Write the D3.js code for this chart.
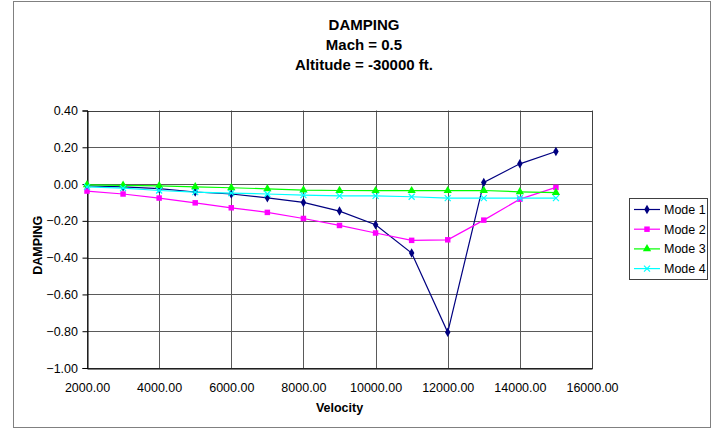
<!DOCTYPE html>
<html>
<head>
<meta charset="utf-8">
<script src="https://cdn.jsdelivr.net/npm/d3@7"></script>
<style>
  body { margin: 0; background: #fff; }
  svg { font-family: Arial, "Liberation Sans", sans-serif; }
</style>
</head>
<body>
<script>
// Damping chart data
var velocity = [2000, 3000, 4000, 5000, 6000, 7000, 8000, 9000, 10000, 11000, 12000, 13000, 14000, 15000];
var mode1 = [-0.01, -0.015, -0.025, -0.043, -0.054, -0.075, -0.10, -0.147, -0.221, -0.375, -0.806, 0.009, 0.11, 0.177];
var mode2 = [-0.038, -0.054, -0.076, -0.102, -0.129, -0.154, -0.187, -0.225, -0.266, -0.306, -0.303, -0.196, -0.082, -0.018];
var mode3 = [-0.004, -0.007, -0.01, -0.015, -0.02, -0.026, -0.033, -0.035, -0.036, -0.036, -0.036, -0.035, -0.042, -0.046];
var mode4 = [-0.015, -0.022, -0.035, -0.044, -0.049, -0.054, -0.06, -0.064, -0.064, -0.069, -0.076, -0.076, -0.076, -0.076];
var seriesNames = ["Mode 1", "Mode 2", "Mode 3", "Mode 4"];
var xTickValues = [2000, 4000, 6000, 8000, 10000, 12000, 14000, 16000];
var yTickValues = [-1.0, -0.8, -0.6, -0.4, -0.2, 0.0, 0.2, 0.4];
var titleLines = ["DAMPING", "Mach = 0.5", "Altitude = -30000 ft."];

var svgWidth = 721;
var svgHeight = 430;

// plot area in pixels
var plot = { left: 87, right: 592, top: 110.5, bottom: 368 };

var colors = ["#000080", "#ff00ff", "#00ff00", "#00ffff"];
var symbols = ["diamond", "square", "triangle", "cross"];

var svg = d3.select("body")
  .append("svg")
  .attr("width", svgWidth)
  .attr("height", svgHeight);

// outer chart border
svg.append("rect")
  .attr("x", 13.5).attr("y", 1.5)
  .attr("width", 697).attr("height", 426)
  .attr("fill", "#fff")
  .attr("stroke", "#808080");

var xScale = d3.scaleLinear()
  .domain([2000, 16000])
  .range([plot.left, plot.right]);

var yScale = d3.scaleLinear()
  .domain([-1.0, 0.4])
  .range([plot.bottom, plot.top]);

// gridlines
svg.append("g").selectAll("line")
  .data(yTickValues)
  .enter().append("line")
  .attr("x1", plot.left).attr("x2", plot.right)
  .attr("y1", d => Math.round(yScale(d)) + 0.5)
  .attr("y2", d => Math.round(yScale(d)) + 0.5)
  .attr("stroke", "#5a5a5a");

svg.append("g").selectAll("line")
  .data(xTickValues)
  .enter().append("line")
  .attr("y1", plot.top).attr("y2", plot.bottom)
  .attr("x1", d => Math.round(xScale(d)) + 0.5)
  .attr("x2", d => Math.round(xScale(d)) + 0.5)
  .attr("stroke", "#5a5a5a");

// plot border
svg.append("rect")
  .attr("x", plot.left + 0.5).attr("y", Math.round(plot.top) + 0.5)
  .attr("width", plot.right - plot.left)
  .attr("height", Math.round(plot.bottom) - Math.round(plot.top))
  .attr("fill", "none")
  .attr("stroke", "#404040");

// axes
var leftAxis = d3.axisLeft(yScale)
  .tickValues(yTickValues)
  .tickFormat(d3.format(".2f"))
  .tickSize(5)
  .tickPadding(4.5);

var bottomAxis = d3.axisBottom(xScale)
  .tickValues(xTickValues)
  .tickFormat(d3.format(".2f"))
  .tickSize(0)
  .tickPadding(15);

var yAxisG = svg.append("g")
  .attr("transform", "translate(" + (plot.left + 0.5) + ",0)")
  .call(leftAxis);

var xAxisG = svg.append("g")
  .attr("transform", "translate(0," + (plot.bottom + 0.5) + ")")
  .call(bottomAxis);

[yAxisG, xAxisG].forEach(function (g) {
  g.select(".domain").attr("stroke", "#000");
  g.selectAll(".tick line").attr("stroke", "#000");
  g.selectAll(".tick text")
    .attr("fill", "#000")
    .style("font-size", "12.5px")
    .style("font-family", "Arial, 'Liberation Sans', sans-serif");
});

// series lines and markers
var allSeries = [mode1, mode2, mode3, mode4];

var drawLine = d3.line()
  .x((d, i) => xScale(velocity[i]))
  .y(d => yScale(d));

function markerPath(type) {
  if (type === "diamond") return d3.symbol().type(d3.symbolDiamond).size(26)();
  if (type === "square") return d3.symbol().type(d3.symbolSquare).size(30)();
  if (type === "triangle") return d3.symbol().type(d3.symbolTriangle).size(30)();
  return "M-3,-3L3,3M-3,3L3,-3";
}

allSeries.forEach(function (values, s) {
  svg.append("path")
    .attr("d", drawLine(values))
    .attr("fill", "none")
    .attr("stroke", colors[s])
    .attr("stroke-width", 1.2);

  svg.append("g").selectAll("path")
    .data(values)
    .enter().append("path")
    .attr("transform", (d, i) => "translate(" + xScale(velocity[i]) + "," + yScale(d) + ")")
    .attr("d", markerPath(symbols[s]))
    .attr("fill", symbols[s] === "cross" ? "none" : colors[s])
    .attr("stroke", colors[s])
    .attr("stroke-width", symbols[s] === "cross" ? 1.2 : 0);
});

// titles
svg.append("g").selectAll("text")
  .data(titleLines)
  .enter().append("text")
  .attr("x", 364)
  .attr("y", (d, i) => 30 + i * 19.8)
  .attr("text-anchor", "middle")
  .style("font-size", "15px")
  .style("font-weight", "bold")
  .text(d => d);

svg.append("text")
  .attr("x", (plot.left + plot.right) / 2)
  .attr("y", 412)
  .attr("text-anchor", "middle")
  .style("font-size", "12.5px")
  .style("font-weight", "bold")
  .text("Velocity");

svg.append("text")
  .attr("transform", "translate(42," + ((plot.top + plot.bottom) / 2 + 6) + ") rotate(-90)")
  .attr("text-anchor", "middle")
  .style("font-size", "12.5px")
  .style("font-weight", "bold")
  .text("DAMPING");

// legend
var legend = svg.append("g");
legend.append("rect")
  .attr("x", 629.5).attr("y", 198.5)
  .attr("width", 78).attr("height", 81)
  .attr("fill", "#fff")
  .attr("stroke", "#404040");

seriesNames.forEach(function (name, s) {
  var ly = 209.5 + s * 19.7;
  legend.append("line")
    .attr("x1", 634).attr("x2", 660)
    .attr("y1", ly).attr("y2", ly)
    .attr("stroke", colors[s])
    .attr("stroke-width", 1.2);
  legend.append("path")
    .attr("transform", "translate(647," + ly + ")")
    .attr("d", markerPath(symbols[s]))
    .attr("fill", symbols[s] === "cross" ? "none" : colors[s])
    .attr("stroke", colors[s])
    .attr("stroke-width", symbols[s] === "cross" ? 1.2 : 0);
  legend.append("text")
    .attr("x", 664)
    .attr("y", ly + 4.5)
    .style("font-size", "12.5px")
    .text(name);
});
</script>
</body>
</html>
